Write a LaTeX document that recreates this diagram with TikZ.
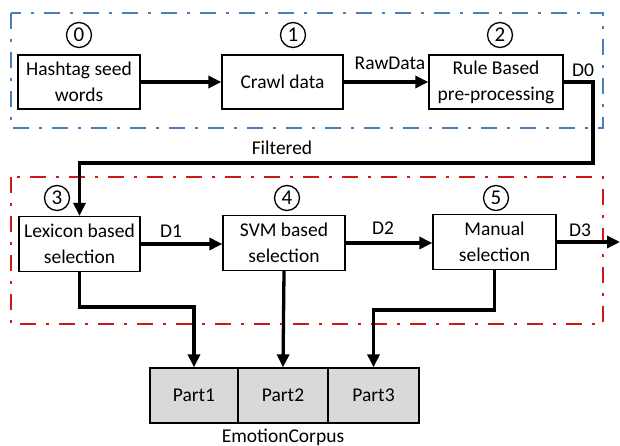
\documentclass[tikz,border=0pt]{standalone}
\usepackage{fontspec}
\setmainfont{Carlito}
\usetikzlibrary{arrows.meta}
\definecolor{stageblue}{RGB}{74,126,187}
\definecolor{stagered}{RGB}{205,25,25}
\definecolor{partgray}{RGB}{217,217,217}
\begin{document}
\begin{tikzpicture}[x=1pt,y=-1pt,
font=\fontsize{19.5}{26}\selectfont,
box/.style={draw,line width=1.3pt,fill=white,align=center,inner sep=0pt,minimum height=54pt},
part/.style={draw,line width=1.3pt,fill=partgray,inner sep=0pt,minimum height=55pt},
num/.style={draw,circle,line width=1.3pt,inner sep=0pt,minimum size=25pt,font=\fontsize{21}{24}\selectfont},
flow/.style={line width=3.3pt,-{Triangle[length=13pt,width=12pt]}},
stage/.style={line width=1.8pt,dash pattern=on 16pt off 10pt on 3pt off 10pt},
lbl/.style={inner sep=0pt}]
\useasboundingbox (0,0) rectangle (620,446);

\draw[stage,stageblue] (11,13) rectangle (603,128);
\draw[stage,stagered] (11,177) rectangle (603,324);

\node[box,minimum width=122pt] (seed) at (79,82) {Hashtag seed\\words};
\node[box,minimum width=121pt] (crawl) at (282.5,82) {Crawl data};
\node[box,minimum width=134pt] (rule) at (496,82) {Rule Based\\pre-processing};
\node[box,minimum width=121pt,minimum height=55pt] (lex) at (79.5,244) {Lexicon based\\selection};
\node[box,minimum width=122pt,minimum height=55pt] (svm) at (284,243) {SVM based\\selection};
\node[box,minimum width=123pt,minimum height=55pt] (manual) at (494.5,242) {Manual\\selection};

\node[num] (n0) at (79,35) {0};
\node[num] (n1) at (293,35) {1};
\node[num] (n2) at (500,35) {2};
\node[num] (n3) at (57,198) {3};
\node[num] (n4) at (287,198) {4};
\node[num] (n5) at (496,198) {5};

\node[part,minimum width=88pt] (p1) at (194,395.5) {Part1};
\node[part,minimum width=90pt] (p2) at (283,395.5) {Part2};
\node[part,minimum width=91pt] (p3) at (373.5,395.5) {Part3};
\node[lbl] (corpus) at (283,437) {EmotionCorpus};

\node[lbl] (raw) at (390,63) {RawData};
\node[lbl] (d0) at (583,70) {D0};
\node[lbl] (filt) at (282,148) {Filtered};
\node[lbl] (d1) at (171,231) {D1};
\node[lbl] (d2) at (383,228) {D2};
\node[lbl] (d3) at (580,230) {D3};
\coordinate (out) at (620,242);

\draw[flow] (seed.east) -- (crawl.west);
\draw[flow] (crawl.east) -- (rule.west);
\draw[flow] (rule.east) -- (593,82) -- (593,163) -- (lex.north |- 0,163) -- (lex.north);
\draw[flow] (lex.east) -- (lex.east -| svm.west);
\draw[flow] (svm.east) -- (svm.east -| manual.west);
\draw[flow] (manual.east) -- (out);
\draw[flow] (lex.south) -- (79.5,307) -- (p1.north |- 0,307) -- (p1.north);
\draw[flow] (svm.south) -- (p2.north);
\draw[flow] (manual.south) -- (494.5,310) -- (p3.north |- 0,310) -- (p3.north);
\end{tikzpicture}
\end{document}
